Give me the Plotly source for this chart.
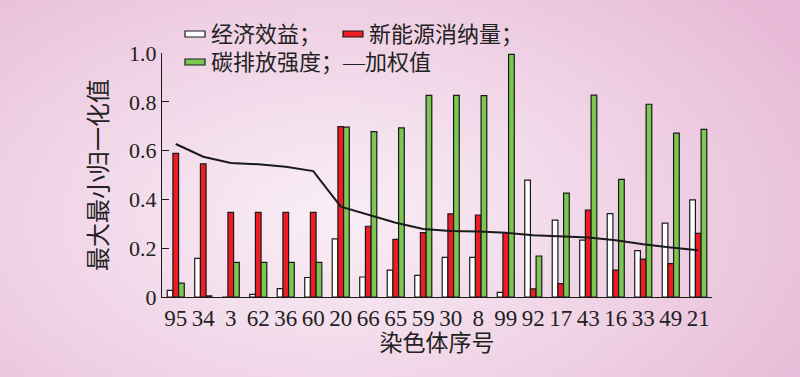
import base64, struct, zlib
import numpy as np
import plotly.graph_objects as go

# ---------------- data ----------------
categories = ["95", "34", "3", "62", "36", "60", "20", "66", "65", "59",
              "30", "8", "99", "92", "17", "43", "16", "33", "49", "21"]
economic = [0.027, 0.158, 0.0, 0.011, 0.034, 0.080, 0.238, 0.082, 0.110, 0.089,
            0.162, 0.162, 0.019, 0.479, 0.315, 0.233, 0.342, 0.190, 0.303, 0.398]
new_energy = [0.589, 0.546, 0.347, 0.347, 0.347, 0.347, 0.698, 0.290, 0.236, 0.264,
              0.341, 0.336, 0.264, 0.033, 0.055, 0.356, 0.110, 0.155, 0.137, 0.261]
carbon = [0.057, 0.005, 0.142, 0.142, 0.142, 0.142, 0.696, 0.678, 0.693, 0.826,
          0.826, 0.825, 0.994, 0.168, 0.426, 0.827, 0.482, 0.790, 0.672, 0.687]
weighted = [0.627, 0.575, 0.549, 0.544, 0.534, 0.516, 0.370, 0.336, 0.304, 0.279,
            0.271, 0.268, 0.263, 0.253, 0.249, 0.244, 0.233, 0.216, 0.203, 0.192]
y_ticks = [0, 0.2, 0.4, 0.6, 0.8, 1.0]
y_ticktext = ["0", "0.2", "0.4", "0.6", "0.8", "1.0"]

# ---------------- layout constants ----------------
W, H = 800, 377
ML, MR, MT, MB = 162, 88, 53, 80
PW, PH = W - ML - MR, H - MT - MB
FONT = "Liberation Serif, Noto Sans CJK SC, serif"
TXT = "#222222"
EDGE = "#1a1a1a"
WHITE, RED, GREEN = "#ffffff", "#ee1d25", "#7cc752"


def px(x):
    return (x - ML) / PW


def py(y):
    return (H - MB - y) / PH


# ---------------- background gradient image ----------------
def gradient_png(w, h):
    yy, xx = np.mgrid[0:h, 0:w].astype(float)
    sx, sy = W / w, H / h
    cx, cy, rx, ry = 330, 215, 560, 340
    t = np.sqrt(((xx * sx - cx) / rx) ** 2 + ((yy * sy - cy) / ry) ** 2)
    t = np.clip(t, 0, 1) ** 1.1
    c0 = np.array([249, 238, 246], float)
    c1 = np.array([232, 186, 215], float)
    img = (c0[None, None, :] * (1 - t[..., None]) + c1[None, None, :] * t[..., None]).astype(np.uint8)
    raw = b"".join(b"\x00" + img[r].tobytes() for r in range(h))

    def chunk(tag, data):
        return struct.pack(">I", len(data)) + tag + data + struct.pack(">I", zlib.crc32(tag + data) & 0xffffffff)

    png = b"\x89PNG\r\n\x1a\n" + chunk(b"IHDR", struct.pack(">IIBBBBB", w, h, 8, 2, 0, 0, 0)) \
        + chunk(b"IDAT", zlib.compress(raw, 9)) + chunk(b"IEND", b"")
    return "data:image/png;base64," + base64.b64encode(png).decode()


fig = go.Figure()
fig.add_trace(go.Bar(x=categories, y=economic, name="经济效益",
                     marker=dict(color=WHITE, line=dict(color=EDGE, width=1.2))))
fig.add_trace(go.Bar(x=categories, y=new_energy, name="新能源消纳量",
                     marker=dict(color=RED, line=dict(color=EDGE, width=1.2))))
fig.add_trace(go.Bar(x=categories, y=carbon, name="碳排放强度",
                     marker=dict(color=GREEN, line=dict(color=EDGE, width=1.2))))
fig.add_trace(go.Scatter(x=categories, y=weighted, name="加权值", mode="lines",
                         line=dict(color=EDGE, width=2)))

# manual legend (symbols + text)
shapes = []
annotations = []


def legend_item(x0, yc, color, label):
    shapes.append(dict(type="rect", xref="paper", yref="paper",
                       x0=px(x0), x1=px(x0 + 20), y0=py(yc + 3), y1=py(yc - 3),
                       fillcolor=color, line=dict(color=EDGE, width=1.2)))
    annotations.append(dict(xref="paper", yref="paper", x=px(x0 + 24), y=py(yc),
                            xanchor="left", yanchor="middle", showarrow=False,
                            text=label, font=dict(family=FONT, size=22, color=TXT)))


legend_item(185, 34, WHITE, "经济效益；")
legend_item(343, 34, RED, "新能源消纳量；")
legend_item(185, 62, GREEN, "碳排放强度；—加权值")

fig.update_layout(
    width=W, height=H,
    margin=dict(l=ML, r=MR, t=MT, b=MB, pad=0),
    paper_bgcolor="#f0d6e7", plot_bgcolor="rgba(0,0,0,0)",
    barmode="group", bargap=0.38, bargroupgap=0.0,
    showlegend=False,
    font=dict(family=FONT, color=TXT),
    shapes=shapes, annotations=annotations,
    images=[dict(source=gradient_png(200, 94), xref="paper", yref="paper",
                 x=-ML / PW, y=1 + MT / PH, sizex=W / PW, sizey=H / PH,
                 xanchor="left", yanchor="top", sizing="stretch", layer="below")],
    xaxis=dict(type="category", range=[-0.5, len(categories) - 0.5],
               tickmode="array", tickvals=categories, ticktext=categories, tickangle=0,
               showline=True, linecolor=EDGE, linewidth=1.3, ticks="",
               showgrid=False, zeroline=False,
               tickfont=dict(family=FONT, size=23, color=TXT),
               title=dict(text="染色体序号", font=dict(family=FONT, size=23, color=TXT), standoff=2)),
    yaxis=dict(range=[0, 1.0], tickvals=y_ticks, ticktext=y_ticktext,
               showline=True, linecolor=EDGE, linewidth=1.3,
               ticks="inside", ticklen=7, tickwidth=1.3, tickcolor=EDGE,
               showgrid=False, zeroline=False,
               tickfont=dict(family=FONT, size=22, color=TXT),
               title=dict(text="最大最小归一化值", font=dict(family=FONT, size=24, color=TXT), standoff=14)),
)

fig.write_html("out.html",
               config={"displayModeBar": False},
               post_script="document.body.style.margin='0';document.body.style.padding='0';"
                           "document.body.style.overflow='hidden';")
